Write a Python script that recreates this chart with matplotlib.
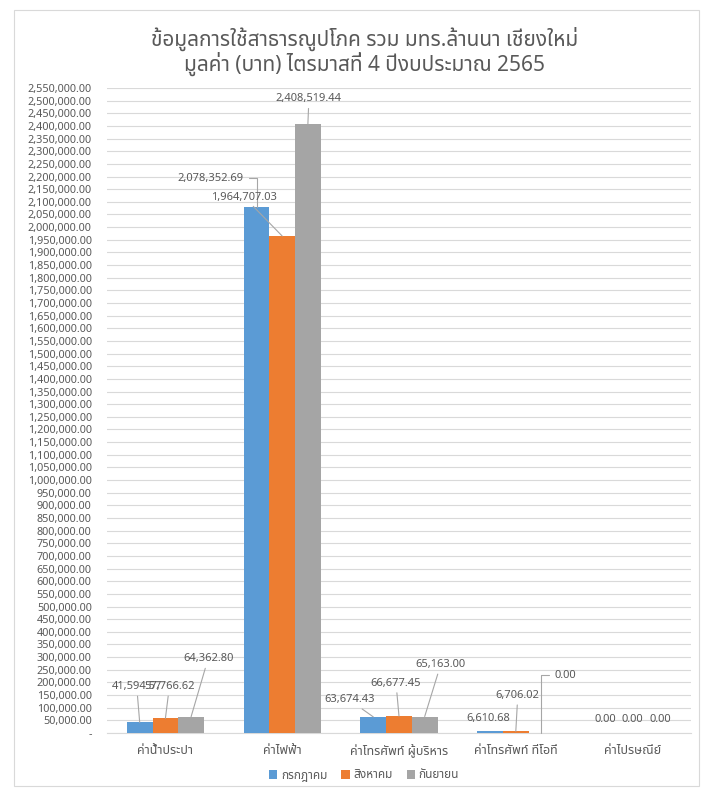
import matplotlib
matplotlib.use("Agg")
import matplotlib.pyplot as plt
import numpy as np
from matplotlib import font_manager
from matplotlib.ticker import FuncFormatter, MultipleLocator
from matplotlib.patches import Rectangle

# pick fonts that exist: latin first, thai fallback
names = {f.name for f in font_manager.fontManager.ttflist}
fams = [f for f in ["Noto Sans", "Noto Sans Thai", "IBM Plex Sans Thai", "Sarabun", "Loma", "DejaVu Sans"] if f in names]
plt.rcParams['font.family'] = fams

categories = ["ค่าน้ำประปา", "ค่าไฟฟ้า", "ค่าโทรศัพท์ ผู้บริหาร", "ค่าโทรศัพท์ ทีโอที", "ค่าไปรษณีย์"]
months = ["กรกฎาคม", "สิงหาคม", "กันยายน"]
jul = [41594.57, 2078352.69, 63674.43, 6610.68, 0.0]
aug = [57766.62, 1964707.03, 66677.45, 6706.02, 0.0]
sep = [64362.80, 2408519.44, 65163.00, 0.0, 0.0]
series = [jul, aug, sep]
colors = ["#5B9BD5", "#ED7D31", "#A5A5A5"]

# label offsets (pixels) from bar top, and leader style per label
offsets = [
    [(-3, 36), (-46, 29), (-24, 17), (-2, 13), (-2, 14)],
    [(4, 32), (-38, 39), (-3, 33), (2, 36), (0, 14)],
    [(17, 58), (1, 25), (16, 52), (24, 58), (2, 14)],
]
leaders = [
    ["line", "elbow", "line", None, None],
    ["line", "line", "line", "line", None],
    ["line", "line", "line", "elbow", None],
]

txt = "#595959"
fig = plt.figure(figsize=(7.04, 7.89), dpi=100)
fig.patches.append(Rectangle((14 / 704, 3 / 789), 685 / 704, 776 / 789, transform=fig.transFigure,
                             fill=False, edgecolor="#d9d9d9", lw=0.8))
ax = fig.add_axes([107 / 704, 1 - 733 / 789, 584 / 704, 645 / 789])

x = np.arange(len(categories))
w = 0.22
for i, (vals, c) in enumerate(zip(series, colors)):
    xs = x + (i - 1) * w
    ax.bar(xs, vals, w, color=c, label=months[i], zorder=3)
    for j, v in enumerate(vals):
        dx, dy = offsets[i][j]
        kw = dict(xy=(xs[j], v), xytext=(dx, dy), textcoords="offset pixels",
                  ha="center", va="center", fontsize=8, color=txt, zorder=5)
        if leaders[i][j] == "line":
            kw["arrowprops"] = dict(arrowstyle="-", color="#a6a6a6", lw=0.8, shrinkA=1, shrinkB=0)
        elif leaders[i][j] == "elbow":
            kw["arrowprops"] = dict(arrowstyle="-", color="#a6a6a6", lw=0.8, shrinkA=2, shrinkB=0,
                                    connectionstyle="angle,angleA=0,angleB=90,rad=0")
        ax.annotate(f"{v:,.2f}", **kw)

ax.set_xlim(-0.5, len(categories) - 0.5)
ax.set_ylim(0, 2550000)
ax.yaxis.set_major_locator(MultipleLocator(50000))
ax.yaxis.set_major_formatter(FuncFormatter(lambda v, p: "-" if v == 0 else f"{v:,.2f}"))
ax.grid(axis="y", color="#d9d9d9", lw=0.8, zorder=0)
ax.set_xticks(x)
ax.set_xticklabels(categories, fontsize=9, color=txt)
ax.tick_params(axis="y", length=0, pad=11, labelsize=7.8, labelcolor=txt)
ax.tick_params(axis="x", length=0, pad=8)
for s in ["top", "right", "left"]:
    ax.spines[s].set_visible(False)
ax.spines["bottom"].set_color("#d9d9d9")

fig.text(365 / 704, 1 - 51 / 789, "ข้อมูลการใช้สาธารณูปโภค รวม มทร.ล้านนา เชียงใหม่\nมูลค่า (บาท) ไตรมาสที่ 4 ปีงบประมาณ 2565",
         ha="center", va="center", fontsize=15, color=txt, linespacing=1.05)

fig.legend(loc="center", bbox_to_anchor=(364 / 704, 1 - 775 / 789), ncol=3, frameon=False,
           fontsize=8.5, handlelength=0.7, handleheight=0.7, handletextpad=0.3, columnspacing=1.2,
           labelcolor=txt)

fig.savefig("out.png", dpi=100)
